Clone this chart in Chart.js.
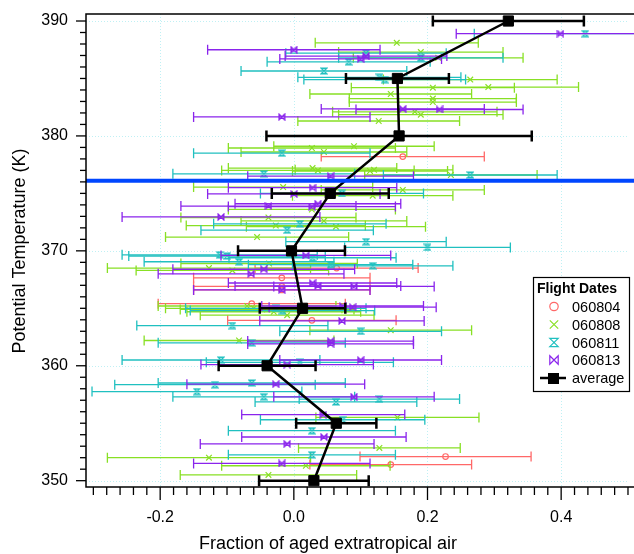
<!DOCTYPE html>
<html>
<head>
<meta charset="utf-8">
<script src="https://cdn.jsdelivr.net/npm/chart.js@4.4.0/dist/chart.umd.min.js"></script>
<style>
    html, body { margin: 0; padding: 0; background: #fff; }
</style>
</head>
<body>
<canvas id="graficoVuelos" width="634" height="554"></canvas>
<script>
// Datos por vuelo: temperatura potencial (K), fracción de aire extratropical y error (semi-ancho)
const theta060804 = [378.2, 368.5, 367.65, 366.9, 366.6, 365.4, 363.95, 352.1, 351.4];
const frac060804 = [0.163, 0.064, -0.018, -0.018, -0.018, -0.063, 0.027, 0.227, 0.145];
const err060804 = [0.122, 0.122, 0.132, 0.132, 0.132, 0.14, 0.126, 0.128, 0.121];

const theta060808 = [388.1, 387.3, 386.8, 384.9, 384.25, 384.2, 383.65, 383.25, 382.95, 382.1, 381.85, 381.3,
    379.1, 378.95, 378.6, 377.2, 377.0, 376.95, 377.05, 376.6, 375.55, 375.3, 374.8, 373.6, 372.9, 372.6,
    372.2, 372.1, 371.2, 368.9, 368.5, 368.3, 365.2, 365.0, 364.9, 364.7, 364.4, 363.1, 362.2, 355.5,
    352.85, 352.0, 351.3, 350.5];
const frac060808 = [0.154, 0.19, 0.216, 0.264, 0.291, 0.208, 0.145, 0.208, 0.208, 0.181, 0.19, 0.127,
    0.09, 0.027, 0.045, 0.028, 0.036, 0.114, 0.12, 0.235, -0.016, 0.163, 0.118, 0.027, -0.038, 0.045,
    -0.027, 0.063, -0.055, -0.037, -0.127, -0.092, -0.07, -0.06, -0.04, -0.03, -0.01, 0.145, -0.082, 0.155,
    0.128, -0.127, 0.018, -0.038];
const err060808 = [0.122, 0.123, 0.127, 0.13, 0.135, 0.122, 0.121, 0.125, 0.125, 0.123, 0.123, 0.121,
    0.12, 0.125, 0.124, 0.126, 0.144, 0.116, 0.118, 0.129, 0.134, 0.122, 0.12, 0.125, 0.131, 0.124,
    0.134, 0.134, 0.137, 0.132, 0.152, 0.144, 0.133, 0.132, 0.13, 0.13, 0.13, 0.121, 0.142, 0.122,
    0.121, 0.152, 0.126, 0.132];

const theta060811 = [388.9, 387.2, 386.8, 386.45, 385.65, 385.1, 384.9, 378.5, 376.6, 376.7, 375.0, 372.35,
    371.8, 370.8, 370.3, 369.65, 369.55, 369.4, 369.05, 368.8, 368.7, 365.0, 364.8, 363.5, 363.0, 362.0,
    360.5, 360.3, 358.5, 358.35, 357.75, 357.3, 357.1, 356.85, 355.3, 354.35, 352.25];
const frac060811 = [0.436, 0.108, 0.19, 0.082, 0.045, 0.128, 0.136, -0.018, 0.264, -0.045, 0.072, 0.009,
    -0.01, 0.108, 0.2, -0.111, -0.1, 0.028, -0.082, 0.055, 0.118, -0.027, -0.017, -0.092, 0.1, -0.063,
    -0.109, 0.009, -0.063, -0.118, -0.145, -0.045, 0.128, 0.063, 0.073, 0.027, 0.027];
const err060811 = [0.166, 0.12, 0.123, 0.122, 0.124, 0.122, 0.121, 0.132, 0.13, 0.136, 0.122, 0.129,
    0.129, 0.12, 0.124, 0.146, 0.147, 0.125, 0.142, 0.123, 0.12, 0.135, 0.138, 0.143, 0.121, 0.14,
    0.148, 0.14, 0.14, 0.15, 0.157, 0.136, 0.12, 0.121, 0.123, 0.125, 0.125];

const theta060813 = [388.9, 387.5, 386.95, 386.7, 382.35, 382.3, 381.65, 376.5, 375.5, 374.95, 374.1, 373.9,
    373.85, 372.95, 369.6, 368.4, 368.0, 367.2, 366.95, 366.9, 366.6, 365.2, 365.1, 363.9, 362.15, 361.9,
    360.5, 360.1, 358.4, 357.3, 355.75, 353.8, 353.2, 351.5];
const frac060813 = [0.399, 0.0, 0.108, 0.1, 0.163, 0.218, -0.018, 0.055, 0.028, 0.0, 0.036, -0.038,
    0.027, -0.109, 0.018, -0.045, -0.064, 0.028, 0.036, 0.09, -0.018, 0.073, 0.088, 0.072, 0.055, 0.055,
    0.1, -0.01, -0.027, 0.09, 0.044, 0.045, -0.01, -0.018];
const err060813 = [0.156, 0.129, 0.121, 0.121, 0.122, 0.125, 0.132, 0.124, 0.126, 0.129, 0.124, 0.131,
    0.125, 0.148, 0.127, 0.136, 0.139, 0.126, 0.124, 0.12, 0.132, 0.121, 0.125, 0.123, 0.124, 0.124,
    0.121, 0.129, 0.133, 0.12, 0.122, 0.123, 0.13, 0.132];

// Promedio cada 5 K
const thetaPromedio = [350, 355, 360, 365, 370, 375, 380, 385, 390];
const fracPromedio = [0.03, 0.0635, -0.04, 0.013, -0.0035, 0.0545, 0.1575, 0.155, 0.321];
const errPromedio = [0.082, 0.06, 0.0725, 0.064, 0.08, 0.0875, 0.1985, 0.077, 0.113];

// Ejes
const xTicksMayores = [-0.2, 0.0, 0.2, 0.4];
const yTicksMayores = [350, 360, 370, 380, 390];
const thetaTropopausa = 376.1;

const fuente = "'Liberation Sans', Arial, sans-serif";
const colores = { r: '#ff6868', g: '#88e024', c: '#20c0c0', p: '#8a24ec' };

// Marcadores personalizados (reloj de arena y corbatín)
function dibujarMarca(g, tipo, cx, cy, s, color, lw) {
    g.save();
    g.strokeStyle = color;
    g.lineWidth = lw;
    g.beginPath();
    if (tipo === 'reloj') {
        g.moveTo(cx - s, cy - s); g.lineTo(cx + s, cy - s); g.lineTo(cx - s, cy + s); g.lineTo(cx + s, cy + s);
        g.closePath();
    } else if (tipo === 'corbatin') {
        g.moveTo(cx - s, cy - s); g.lineTo(cx - s, cy + s); g.lineTo(cx + s, cy - s); g.lineTo(cx + s, cy + s);
        g.closePath();
    } else if (tipo === 'circulo') {
        g.arc(cx, cy, s, 0, Math.PI * 2);
    } else if (tipo === 'x') {
        g.moveTo(cx - s, cy - s); g.lineTo(cx + s, cy + s);
        g.moveTo(cx + s, cy - s); g.lineTo(cx - s, cy + s);
    }
    g.stroke();
    g.restore();
}
function crearMarca(tipo, color) {
    const c = document.createElement('canvas');
    c.width = 8; c.height = 8;
    dibujarMarca(c.getContext('2d'), tipo, 4, 4, 2.8, color, 1.4);
    return c;
}

function puntos(theta, frac) {
    return theta.map((t, i) => ({ x: frac[i], y: t }));
}

// Plugin: barras de error horizontales
const barrasError = {
    id: 'barrasError',
    beforeDatasetDraw(chart, args) {
        const ds = chart.data.datasets[args.index];
        if (!ds.errores) return;
        const { ctx, chartArea, scales: { x, y } } = chart;
        ctx.save();
        ctx.beginPath();
        ctx.rect(chartArea.left, chartArea.top, chartArea.right - chartArea.left, chartArea.bottom - chartArea.top);
        ctx.clip();
        ctx.strokeStyle = ds.colorBarra;
        ctx.lineWidth = ds.grosorBarra;
        ds.data.forEach((p, i) => {
            const e = ds.errores[i];
            const x1 = x.getPixelForValue(p.x - e);
            const x2 = x.getPixelForValue(p.x + e);
            const py = y.getPixelForValue(p.y);
            ctx.beginPath();
            ctx.moveTo(x1, py); ctx.lineTo(x2, py);
            ctx.moveTo(x1, py - ds.capa); ctx.lineTo(x1, py + ds.capa);
            ctx.moveTo(x2, py - ds.capa); ctx.lineTo(x2, py + ds.capa);
            ctx.stroke();
        });
        ctx.restore();
    }
};

// Plugin: rejilla punteada, marco, ticks, línea azul, leyenda y títulos
const decoracion = {
    id: 'decoracion',
    beforeDatasetsDraw(chart) {
        const { ctx, chartArea: a, scales: { x, y } } = chart;
        ctx.save();
        ctx.strokeStyle = '#bff0f4';
        ctx.lineWidth = 1;
        ctx.setLineDash([1, 2]);
        xTicksMayores.forEach(v => {
            const px = Math.round(x.getPixelForValue(v)) + 0.5;
            ctx.beginPath(); ctx.moveTo(px, a.top); ctx.lineTo(px, a.bottom); ctx.stroke();
        });
        yTicksMayores.forEach(v => {
            const py = Math.round(y.getPixelForValue(v)) + 0.5;
            ctx.beginPath(); ctx.moveTo(a.left, py); ctx.lineTo(a.right - 6, py); ctx.stroke();
        });
        ctx.restore();
    },
    afterDatasetsDraw(chart) {
        const { ctx, chartArea: a, scales: { y } } = chart;
        const py = y.getPixelForValue(thetaTropopausa);
        ctx.save();
        ctx.strokeStyle = '#0046ff';
        ctx.lineWidth = 4;
        ctx.beginPath(); ctx.moveTo(a.left, py); ctx.lineTo(a.right, py); ctx.stroke();
        ctx.restore();
    },
    afterDraw(chart) {
        const { ctx, chartArea: a, scales: { x, y } } = chart;
        ctx.save();
        // marco superior, izquierdo e inferior
        ctx.strokeStyle = '#000';
        ctx.lineWidth = 1.5;
        ctx.beginPath();
        ctx.moveTo(a.right, a.top); ctx.lineTo(a.left, a.top); ctx.lineTo(a.left, a.bottom); ctx.lineTo(a.right, a.bottom);
        ctx.stroke();
        // ticks del eje x (cada 0.02)
        ctx.lineWidth = 1.3;
        for (let i = -15; i <= 25; i++) {
            const v = i * 0.02;
            const px = x.getPixelForValue(v);
            const mayor = i % 10 === 0;
            ctx.beginPath(); ctx.moveTo(px, a.bottom); ctx.lineTo(px, a.bottom + (mayor ? 13 : 8)); ctx.stroke();
        }
        // ticks del eje y (cada 1 K)
        for (let t = 350; t <= 390; t++) {
            const py = y.getPixelForValue(t);
            const mayor = t % 10 === 0;
            ctx.beginPath(); ctx.moveTo(a.left, py); ctx.lineTo(a.left - (mayor ? 10 : 6), py); ctx.stroke();
        }
        // títulos de ejes
        ctx.fillStyle = '#000';
        ctx.font = '18px ' + fuente;
        ctx.textAlign = 'center';
        ctx.textBaseline = 'middle';
        ctx.fillText('Fraction of aged extratropical air', 328, 544);
        ctx.save();
        ctx.translate(20, 251);
        ctx.rotate(-Math.PI / 2);
        ctx.fillText('Potential Temperature (K)', 0, 0);
        ctx.restore();

        // leyenda
        const lx = 533, ly = 277, lw = 96, lh = 114;
        ctx.fillStyle = '#fff';
        ctx.fillRect(lx, ly, lw, lh);
        ctx.strokeStyle = '#000';
        ctx.lineWidth = 1.2;
        ctx.strokeRect(lx + 0.5, ly + 0.5, lw, lh);
        ctx.fillStyle = '#000';
        ctx.font = 'bold 14px ' + fuente;
        ctx.textAlign = 'left';
        ctx.fillText('Flight Dates', 537, 289);
        ctx.font = '14.5px ' + fuente;
        const filas = [
            ['060804', 'circulo', colores.r, 306.5],
            ['060808', 'x', colores.g, 324.5],
            ['060811', 'reloj', colores.c, 342.5],
            ['060813', 'corbatin', colores.p, 360]
        ];
        filas.forEach(([txt, tipo, col, fy]) => {
            dibujarMarca(ctx, tipo, 554, fy, 4.2, col, 1.2);
            ctx.fillStyle = '#000';
            ctx.fillText(txt, 572, fy + 1);
        });
        ctx.strokeStyle = '#000';
        ctx.lineWidth = 2.5;
        ctx.beginPath(); ctx.moveTo(540, 378); ctx.lineTo(566, 378); ctx.stroke();
        ctx.fillRect(548, 373, 11, 11);
        ctx.fillText('average', 572, 379);
        ctx.restore();
    }
};

function serieVuelo(etiqueta, theta, frac, err, color, estilo, radio, orden) {
    return {
        label: etiqueta,
        data: puntos(theta, frac),
        errores: err,
        colorBarra: color,
        grosorBarra: 1.3,
        capa: 5,
        showLine: false,
        pointStyle: estilo,
        pointRadius: radio,
        borderColor: color,
        backgroundColor: 'rgba(0,0,0,0)',
        pointBorderWidth: 1.2,
        order: orden
    };
}

const ctx = document.getElementById('graficoVuelos').getContext('2d');
new Chart(ctx, {
    type: 'scatter',
    data: {
        datasets: [
            {
                label: 'average',
                data: puntos(thetaPromedio, fracPromedio),
                errores: errPromedio,
                colorBarra: '#000',
                grosorBarra: 2.5,
                capa: 5.5,
                showLine: true,
                borderColor: '#000',
                borderWidth: 2.5,
                backgroundColor: '#000',
                pointStyle: 'rect',
                pointRadius: 7.2,
                pointBorderWidth: 1,
                order: 0
            },
            serieVuelo('060813', theta060813, frac060813, err060813, colores.p, crearMarca('corbatin', colores.p), 4, 1),
            serieVuelo('060811', theta060811, frac060811, err060811, colores.c, crearMarca('reloj', colores.c), 4, 2),
            serieVuelo('060808', theta060808, frac060808, err060808, colores.g, 'crossRot', 4, 3),
            serieVuelo('060804', theta060804, frac060804, err060804, colores.r, 'circle', 2.8, 4)
        ]
    },
    options: {
        responsive: false,
        animation: false,
        devicePixelRatio: 1,
        layout: { autoPadding: false, padding: { top: 14, right: 0, left: 0, bottom: 0 } },
        plugins: {
            legend: { display: false },
            tooltip: { enabled: false }
        },
        scales: {
            x: {
                type: 'linear',
                position: 'bottom',
                min: -0.311,
                max: 0.509,
                afterBuildTicks: (eje) => { eje.ticks = xTicksMayores.map(v => ({ value: v })); },
                afterFit: (eje) => { eje.height = 67; eje.paddingLeft = 0; eje.paddingRight = 0; },
                grid: { display: false, drawTicks: true, tickLength: 21 },
                border: { display: false },
                ticks: {
                    padding: 0,
                    color: '#000',
                    font: { family: fuente, size: 16 },
                    maxRotation: 0,
                    callback: (v) => Number(v).toFixed(1)
                }
            },
            y: {
                type: 'linear',
                min: 349.45,
                max: 390.61,
                afterBuildTicks: (eje) => { eje.ticks = yTicksMayores.map(v => ({ value: v })); },
                afterFit: (eje) => { eje.width = 86; eje.paddingTop = 0; eje.paddingBottom = 0; },
                grid: { display: false, drawTicks: true, tickLength: 18 },
                border: { display: false },
                ticks: {
                    padding: 0,
                    color: '#000',
                    font: { family: fuente, size: 16 },
                    callback: (v) => String(v)
                }
            }
        }
    },
    plugins: [barrasError, decoracion]
});
</script>
</body>
</html>
